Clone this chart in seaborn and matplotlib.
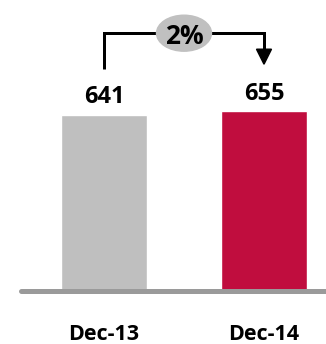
import matplotlib
matplotlib.use("Agg")
import matplotlib.pyplot as plt
import seaborn as sns
import pandas as pd
from matplotlib.patches import Ellipse, Polygon

periods = ["Dec-13", "Dec-14"]
values = [641, 655]
bar_colors = ["#BFBFBF", "#C00D3E"]
change_label = "2%"

sns.set_theme(style="white")
plt.rcParams["font.family"] = ["Open Sans", "DejaVu Sans"]

W, H, DPI = 326, 344, 100
fig = plt.figure(figsize=(W / DPI, H / DPI), dpi=DPI)
base_px = 291          # baseline row, measured from the top edge
step_px = 160          # horizontal distance between the two bars
first_px = 104         # centre of the first bar
upp = 1 / 0.2745       # value units per pixel
ax = fig.add_axes([0, (H - base_px) / H, 1, base_px / H])

df = pd.DataFrame({"period": periods, "value": values})
sns.barplot(data=df, x="period", y="value", hue="period", palette=bar_colors,
            width=86 / step_px, saturation=1, legend=False, ax=ax, zorder=2)

ax.set_xlim(-first_px / step_px, (W - first_px) / step_px)
ax.set_ylim(0, base_px * upp)
ax.set_xlabel("")
ax.set_ylabel("")
ax.set_yticks([])
for s in ax.spines.values():
    s.set_visible(False)
ax.tick_params(axis="x", length=0, pad=24, labelsize=15.5)
for lbl in ax.get_xticklabels():
    lbl.set_fontweight("bold")
    lbl.set_color("black")

for cont in ax.containers:
    ax.bar_label(cont, fmt="%d", padding=4, fontsize=17, fontweight="bold",
                 color="black")

# baseline
ax.axhline(0, xmin=21 / W, xmax=1, color="#9A9A9A", lw=5 * 72 / DPI,
           solid_capstyle="round", clip_on=False, zorder=3)

# growth connector between the two bars
px = lambda n: n * upp
top_y = max(values) + px(78)
start_y = values[0] + px(46)
tip_y = values[1] + px(47)
head_len = px(15)
lw = 3 * 72 / DPI
ell_w = 55 / step_px
ax.plot([0, 0, 0.5], [start_y, top_y, top_y], color="black", lw=lw,
        solid_joinstyle="miter", solid_capstyle="butt", zorder=3)
ax.plot([0.5, 1, 1], [top_y, top_y, tip_y + head_len - px(1)], color="black",
        lw=lw, solid_joinstyle="miter", solid_capstyle="butt", zorder=3)
half = 7.5 / step_px
ax.add_patch(Polygon([[1 - half, tip_y + head_len], [1 + half, tip_y + head_len],
                      [1, tip_y]], closed=True, color="black", zorder=3))
ax.add_patch(Ellipse((0.5, top_y), ell_w, px(36), color="#C0C0C0", zorder=4))
ax.text(0.5, top_y, change_label, ha="center", va="center_baseline",
        fontsize=19, fontweight="bold", color="black", zorder=5)

fig.savefig("out.png", dpi=DPI)
